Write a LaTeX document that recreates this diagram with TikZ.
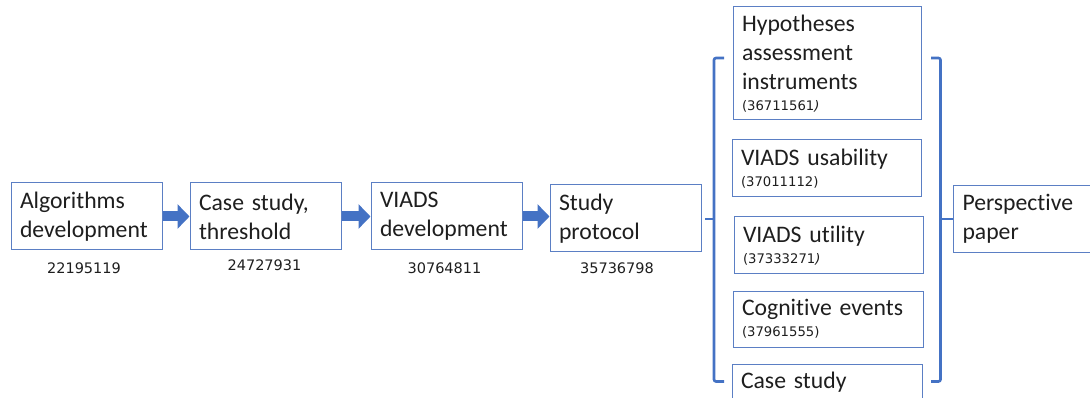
\documentclass[tikz,border=0pt]{standalone}
\usepackage{fontspec}
\setmainfont{Carlito}[Ligatures=NoCommon]
\newfontfamily\numfont{DejaVu Sans}
\usetikzlibrary{arrows.meta}
\definecolor{boxblue}{HTML}{5B7FC4}
\definecolor{brblue}{HTML}{4472C4}
\definecolor{arrblue}{HTML}{4472C4}
\definecolor{txt}{HTML}{1E1E1E}
\newcommand{\pnum}[1]{{\numfont\fontsize{13.2pt}{14pt}\selectfont #1}}
\begin{document}
\begin{tikzpicture}[x=1pt,y=-1pt,
  box/.style 2 args={draw=boxblue, line width=1pt, align=left, text=txt,
    inner xsep=9pt, inner ysep=0pt, text width=#1, minimum height=#2,
    font=\fontsize{23.7pt}{28.8pt}\selectfont},
  num/.style={font=\numfont\fontsize{14.5pt}{17pt}\selectfont, text=txt, inner sep=0pt},
  flow/.style={draw=arrblue, line width=10pt, -{Triangle[width=24pt,length=12pt]}},
  bracket/.style={draw=brblue, line width=2.6pt, rounded corners=2pt},
  nub/.style={draw=brblue, line width=2.6pt}
]
\useasboundingbox (0,0) rectangle (1090,398);
\clip (0,0) rectangle (1090,398);

% left flow
\node[box={133pt}{67pt}] (a) at (86.5,216.5) {Algorithms\\development};
\node[box={133pt}{67pt}] (b) at (265.5,216.5) {Case study,\\threshold};
\node[box={133pt}{67pt}] (c) at (446.5,216.5) {VIADS\\development};
\node[box={133pt}{67pt}] (d) at (625.5,218.5) {Study\\protocol};

\node[num] (na) at (84,268) {22195119};
\node[num] (nb) at (264.5,265.5) {24727931};
\node[num] (nc) at (444.5,268) {30764811};
\node[num] (nd) at (617,268) {35736798};

\draw[flow] (a.east) -- (a.east -| b.west);
\draw[flow] (b.east) -- (b.east -| c.west);
\draw[flow] (c.east) -- (c.east -| d.west);

% right column
\node[box={170pt}{113pt}] (h) at (827,63.5) {Hypotheses\\assessment\\instruments\\[-8pt]\pnum{(36711561\textit{)}}};
\node[box={171pt}{57pt}] (u) at (826.5,168.5) {VIADS usability\\[-8pt]\pnum{(37011112)}};
\node[box={171pt}{57pt}] (t) at (828.5,245.5) {VIADS utility\\[-8pt]\pnum{(37333271\textit{)}}};
\node[box={172pt}{56pt}] (g) at (828,319) {Cognitive events\\[-8pt]\pnum{(37961555)}};
\node[box={172pt}{10pt}, anchor=north, text height=18pt, text depth=40pt, inner ysep=6pt] (k) at (827,363.5) {Case study};

\node[box={132pt}{67pt}, anchor=west] (p) at (953,219) {Perspective\\paper};

% brackets
\coordinate (lt) at (724,58);
\coordinate (lb) at (724,381.5);
\coordinate (lm) at (714,219);
\draw[bracket] (lt) -- (714,58) -- (714,381.5) -- (lb);
\draw[nub] (lm) -- (705,219);

\coordinate (rt) at (931,58);
\coordinate (rb) at (931,381.5);
\coordinate (rm) at (940.5,219);
\draw[bracket] (rt) -- (940.5,58) -- (940.5,381.5) -- (rb);
\draw[nub] (rm) -- (p.west);
\end{tikzpicture}
\end{document}
